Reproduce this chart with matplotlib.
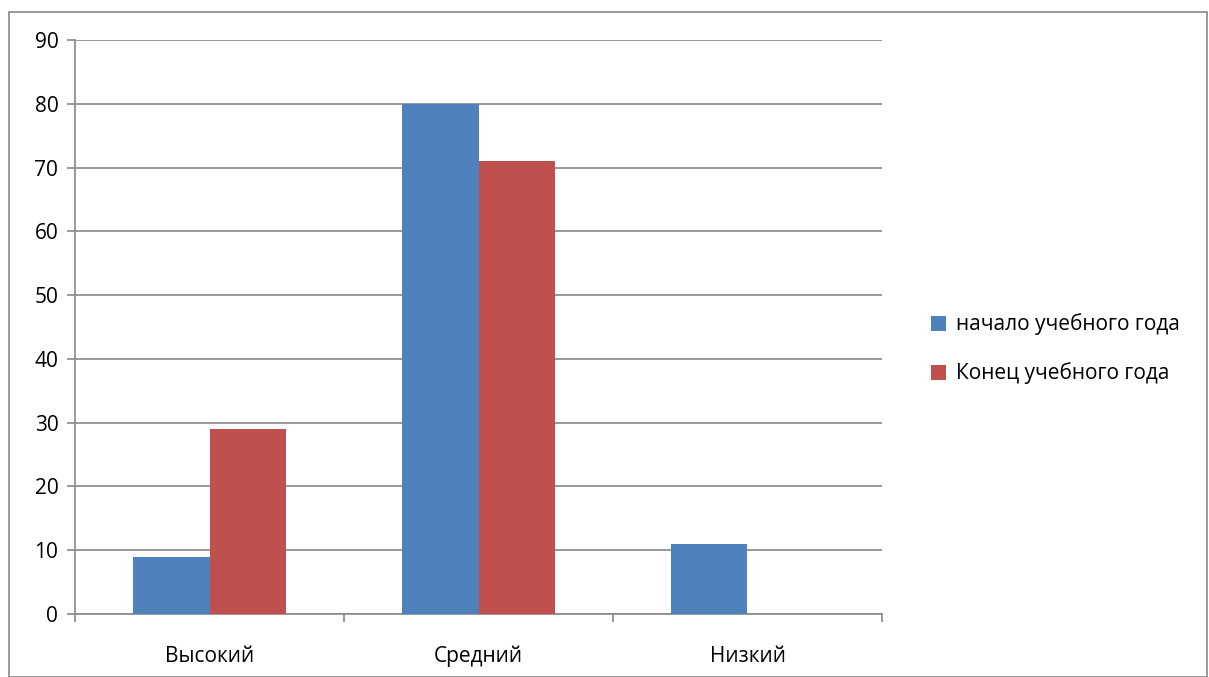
import numpy as np
import matplotlib.pyplot as plt
from matplotlib.patches import Rectangle

categories = ['Высокий', 'Средний', 'Низкий']
series_names = ['начало учебного года', 'Конец учебного года']
start_year = [9, 80, 11]
end_year = [29, 71, 0]
colors = ['#4f81bd', '#c0504d']

plt.rcParams['font.family'] = ['Open Sans', 'DejaVu Sans']

W, H = 1209, 677
fig = plt.figure(figsize=(W / 100, H / 100), dpi=100)
ax = fig.add_axes([75 / W, 1 - 614 / H, (882 - 75) / W, (614 - 40) / H])

# outer chart frame
fig.patches.append(Rectangle((9 / W, 0), (1207 - 9) / W, 1 - 12 / H,
                             transform=fig.transFigure, fill=False,
                             edgecolor='#888888', linewidth=1.2))

x = np.arange(len(categories))
bw = 1 / 3.5
ax.bar(x - bw / 2, start_year, bw, color=colors[0], label=series_names[0], zorder=3)
ax.bar(x + bw / 2, end_year, bw, color=colors[1], label=series_names[1], zorder=3)

ax.set_xlim(-0.5, 2.5)
ax.set_ylim(0, 90)
ax.set_yticks(range(0, 91, 10))
ax.yaxis.grid(True, color='#888888', linewidth=1.2, zorder=0)
ax.set_axisbelow(True)

ax.set_xticks(x)
ax.set_xticklabels(categories)
ax.set_xticks(np.arange(-0.5, 3, 1), minor=True)
ax.tick_params(axis='x', which='major', length=0, pad=23, labelsize=15)
ax.tick_params(axis='x', which='minor', length=6, width=1.2, color='#888888', direction='out')
ax.tick_params(axis='y', length=6, width=1.2, color='#888888', labelsize=15, pad=6)

for s in ['top', 'right']:
    ax.spines[s].set_visible(False)
for s in ['left', 'bottom']:
    ax.spines[s].set_color('#888888')
    ax.spines[s].set_linewidth(1.2)

fig.legend(loc='center left', bbox_to_anchor=(912 / W, 1 - 349 / H), frameon=False,
           fontsize=15, handlelength=0.75, handleheight=0.75, handletextpad=0.45,
           labelspacing=1.3)

fig.savefig('out.png', dpi=100)
